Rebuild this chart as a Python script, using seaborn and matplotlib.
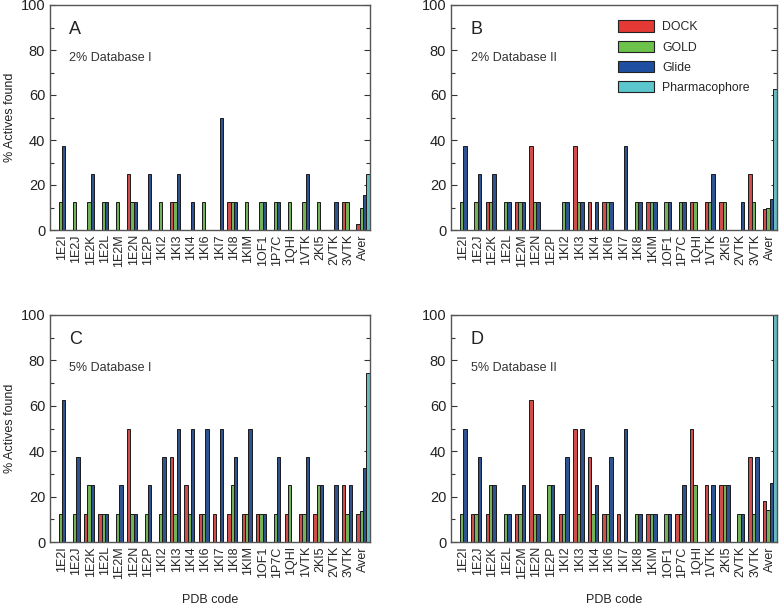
import numpy as np
import pandas as pd
import matplotlib
matplotlib.use("Agg")
import matplotlib.pyplot as plt
import seaborn as sns
from matplotlib.patches import Patch

categories = ["1E2I", "1E2J", "1E2K", "1E2L", "1E2M", "1E2N", "1E2P", "1KI2", "1KI3",
              "1KI4", "1KI6", "1KI7", "1KI8", "1KIM", "1OF1", "1P7C", "1QHI", "1VTK",
              "2KI5", "2VTK", "3VTK", "Aver"]
methods = ["DOCK", "GOLD", "Glide", "Pharmacophore"]
N = np.nan

# Panel A: 2% Database I
a_dock  = [N, N, N, N, N, 25, N, N, 12.5, N, N, N, 12.5, N, N, N, N, N, N, N, 12.5, 2.8]
a_gold  = [12.5, 12.5, 12.5, 12.5, 12.5, 12.5, N, 12.5, 12.5, N, 12.5, N, 12.5, 12.5, 12.5, 12.5, 12.5, 12.5, 12.5, N, 12.5, 10]
a_glide = [37.5, N, 25, 12.5, N, 12.5, 25, N, 25, 12.5, N, 50, 12.5, N, 12.5, 12.5, N, 25, N, 12.5, N, 15.6]
a_pharm = [N] * 21 + [25]

# Panel B: 2% Database II
b_dock  = [N, N, 12.5, N, 12.5, 37.5, N, N, 37.5, 12.5, 12.5, N, N, 12.5, N, N, 12.5, 12.5, 12.5, N, 25, 9.3]
b_gold  = [12.5, 12.5, 12.5, 12.5, 12.5, 12.5, N, 12.5, 12.5, N, 12.5, N, 12.5, 12.5, 12.5, 12.5, 12.5, 12.5, 12.5, N, 12.5, 10]
b_glide = [37.5, 25, 25, 12.5, 12.5, 12.5, N, 12.5, 12.5, 12.5, 12.5, 37.5, 12.5, 12.5, 12.5, 12.5, N, 25, N, 12.5, N, 14]
b_pharm = [N] * 21 + [62.5]

# Panel C: 5% Database I
c_dock  = [N, N, 12.5, 12.5, N, 50, N, N, 37.5, 25, 12.5, 12.5, 12.5, 12.5, 12.5, N, 12.5, 12.5, 12.5, N, 25, 12.5]
c_gold  = [12.5, 12.5, 25, 12.5, 12.5, 12.5, 12.5, 12.5, 12.5, 12.5, 12.5, N, 25, 12.5, 12.5, 12.5, 25, 12.5, 25, N, 12.5, 13.5]
c_glide = [62.5, 37.5, 25, 12.5, 25, 12.5, 25, 37.5, 50, 50, 50, 50, 37.5, 50, 12.5, 37.5, N, 37.5, 25, 25, 25, 32.4]
c_pharm = [N] * 21 + [74.6]

# Panel D: 5% Database II
d_dock  = [N, 12.5, 12.5, N, 12.5, 62.5, N, 12.5, 50, 37.5, 12.5, 12.5, N, 12.5, N, 12.5, 50, 25, 25, N, 37.5, 18.1]
d_gold  = [12.5, 12.5, 25, 12.5, 12.5, 12.5, 25, 12.5, 12.5, 12.5, 12.5, N, 12.5, 12.5, 12.5, 12.5, 25, 12.5, 25, 12.5, 12.5, 14]
d_glide = [50, 37.5, 25, 12.5, 25, 12.5, 25, 37.5, 50, 25, 37.5, 50, 12.5, 12.5, 12.5, 25, N, 25, 25, 12.5, 37.5, 26]
d_pharm = [N] * 21 + [100]

panels = [
    ("A", "2% Database I", [a_dock, a_gold, a_glide, a_pharm]),
    ("B", "2% Database II", [b_dock, b_gold, b_glide, b_pharm]),
    ("C", "5% Database I", [c_dock, c_gold, c_glide, c_pharm]),
    ("D", "5% Database II", [d_dock, d_gold, d_glide, d_pharm]),
]

colors = {"DOCK": "#e53935", "GOLD": "#6cc24a", "Glide": "#1f4fa0", "Pharmacophore": "#5cc6cf"}

sns.set_theme(style="ticks")
plt.rcParams["font.family"] = ["Liberation Sans", "DejaVu Sans"]

fig = plt.figure(figsize=(7.81, 6.09), dpi=100)
W, H = 781, 609
boxes = [(50, 5, 370, 230), (451, 5, 777, 230), (50, 315, 370, 542), (451, 315, 777, 542)]

for i, ((letter, title, series), (x0, y0, x1, y1)) in enumerate(zip(panels, boxes)):
    ax = fig.add_axes([x0 / W, 1 - y1 / H, (x1 - x0) / W, (y1 - y0) / H])
    rows = []
    for m, vals in zip(methods, series):
        for c, v in zip(categories, vals):
            if not np.isnan(v):
                rows.append({"PDB": c, "Method": m, "Value": v})
    df = pd.DataFrame(rows)
    sns.barplot(data=df, x="PDB", y="Value", hue="Method", order=categories,
                hue_order=methods, palette=colors, width=0.95, ax=ax,
                edgecolor="#1a1a1a", linewidth=0.7, legend=False, errorbar=None)
    ax.set_ylim(0, 100)
    ax.set_xlim(-0.84, 21.49)
    ax.set_yticks(np.arange(0, 101, 20))
    ax.set_yticks(np.arange(0, 101, 10), minor=True)
    ax.tick_params(axis="y", which="both", direction="in", left=True, right=True,
                   labelsize=10.5, colors="#333333", labelcolor="#222222")
    ax.tick_params(axis="y", which="major", length=4, width=0.8)
    ax.tick_params(axis="y", which="minor", length=3, width=0.8)
    ax.tick_params(axis="x", length=0, labelsize=9, labelrotation=90, pad=3)
    for s in ax.spines.values():
        s.set_color("#555555")
        s.set_linewidth(1.0)
    ax.set_ylabel("% Actives found" if i % 2 == 0 else "", fontsize=9, color="#222222")
    ax.set_xlabel("PDB code" if i >= 2 else "", fontsize=9, color="#222222", labelpad=11)
    ax.text(0.06, 0.89, letter, transform=ax.transAxes, fontsize=13, ha="left", va="center",
            color="#222222")
    ax.text(0.06, 0.766, title, transform=ax.transAxes, fontsize=9, ha="left", va="center",
            color="#333333")
    if i == 0 or i == 2:
        ax.yaxis.set_label_coords(-0.105, 0.5)
    if letter == "B":
        handles = [Patch(facecolor=colors[m], edgecolor="#222222", linewidth=0.8, label=m)
                   for m in methods]
        ax.legend(handles=handles, loc="upper left", bbox_to_anchor=(0.48, 0.98),
                  frameon=False, fontsize=8.8, handlelength=2.9, handleheight=1.05,
                  labelspacing=0.6, handletextpad=0.7)

fig.savefig("out.png", dpi=100)
